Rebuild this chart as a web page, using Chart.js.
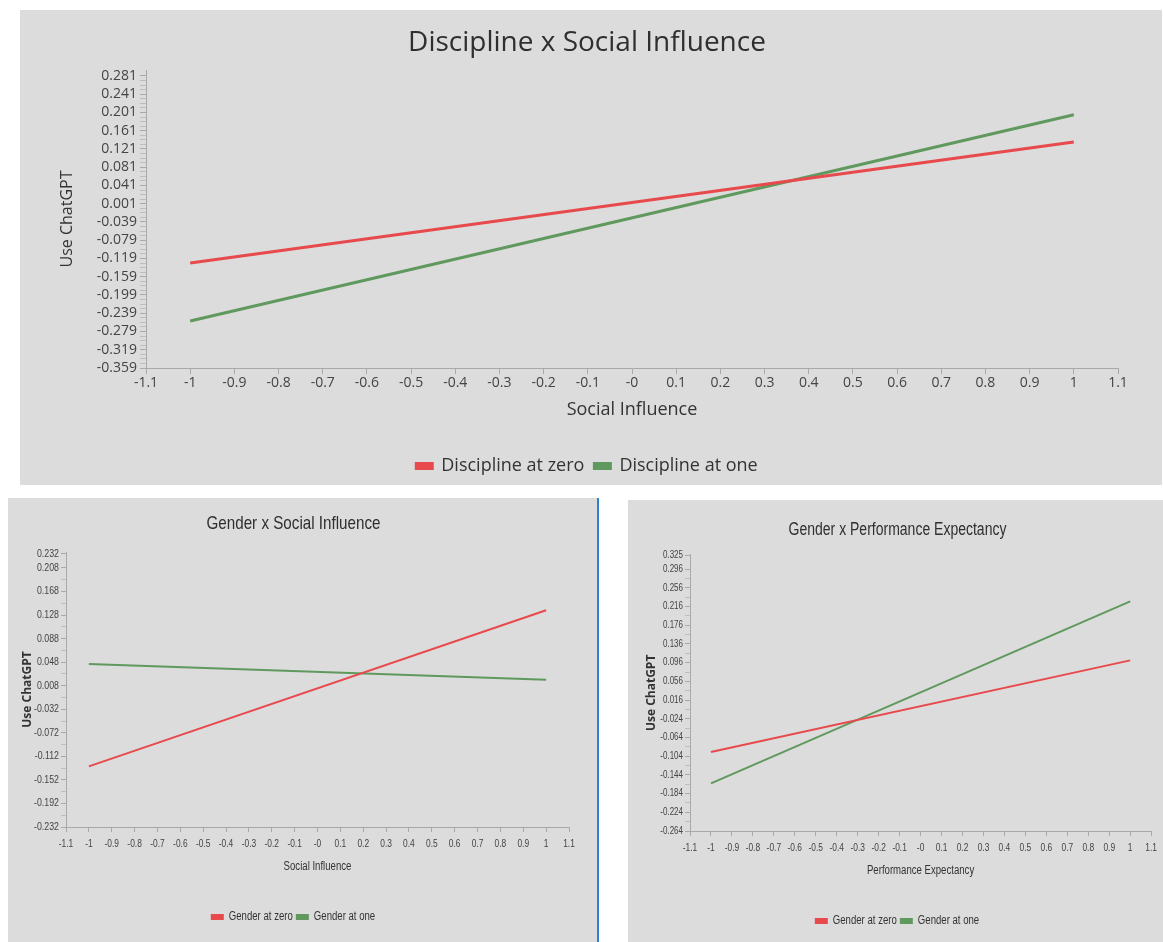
<!DOCTYPE html>
<html>
<head>
<meta charset="utf-8">
<title>Moderation plots</title>
<script src="https://cdn.jsdelivr.net/npm/chart.js"></script>
<style>
  body { margin: 0; background: #fff; width: 1163px; height: 942px; position: relative; overflow: hidden; }
  .panel { position: absolute; background: #dcdcdc; }
  #p1 { left: 20px; top: 10px; width: 1142px; height: 475px; }
  #p2 { left: 8px; top: 498px; width: 589px; height: 444px; border-right: 2px solid #2d7fd8; }
  #p3 { left: 628px; top: 500px; width: 535px; height: 442px; }
  canvas { display: block; }
</style>
</head>
<body>
<div class="panel" id="p1"><canvas id="c1" width="1142" height="475"></canvas></div>
<div class="panel" id="p2"><canvas id="c2" width="589" height="444"></canvas></div>
<div class="panel" id="p3"><canvas id="c3" width="535" height="442"></canvas></div>

<script>
// valores de x (moderador de -1 a 1)
var xPoints = [-1, 1];

// Discipline x Social Influence
var discZero = [-0.129, 0.136];
var discOne = [-0.256, 0.196];

// Gender x Social Influence
var genSiZero = [-0.129, 0.136];
var genSiOne = [0.045, 0.018];

// Gender x Performance Expectancy
var genPeZero = [-0.095, 0.101];
var genPeOne = [-0.162, 0.227];

// etiquetas de los ejes
var xTickLabels = ['-1.1', '-1', '-0.9', '-0.8', '-0.7', '-0.6', '-0.5', '-0.4', '-0.3', '-0.2', '-0.1', '-0',
                   '0.1', '0.2', '0.3', '0.4', '0.5', '0.6', '0.7', '0.8', '0.9', '1', '1.1'];
var topYTickLabels = ['-0.359', '-0.319', '-0.279', '-0.239', '-0.199', '-0.159', '-0.119', '-0.079', '-0.039',
                      '0.001', '0.041', '0.081', '0.121', '0.161', '0.201', '0.241', '0.281'];
var leftYTickLabels = ['-0.232', '-0.192', '-0.152', '-0.112', '-0.072', '-0.032', '0.008', '0.048', '0.088',
                       '0.128', '0.168', '0.208', '0.232'];
var rightYTickLabels = ['-0.264', '-0.224', '-0.184', '-0.144', '-0.104', '-0.064', '-0.024', '0.016', '0.056',
                        '0.096', '0.136', '0.176', '0.216', '0.256', '0.296', '0.325'];

var RED = '#e8494c';
var GREEN = '#5f995d';
var AXIS = '#a9a9a9';

function toPoints(ys) {
    return xPoints.map(function (x, i) { return { x: x, y: ys[i] }; });
}

// construye los ticks del eje y, con ticks menores sin etiqueta
function buildYTicks(labels, minorPerGap) {
    var ticks = [];
    for (var i = 0; i < labels.length; i++) {
        var v = parseFloat(labels[i]);
        ticks.push({ value: v, label: labels[i] });
        if (i < labels.length - 1) {
            var next = parseFloat(labels[i + 1]);
            if (next - v > 0.039) {
                for (var k = 1; k <= minorPerGap; k++) {
                    ticks.push({ value: v + (next - v) * k / (minorPerGap + 1), label: '', minor: true });
                }
            }
        }
    }
    return ticks;
}

// texto estrecho (no hay fuente "narrow" instalada): se comprime en horizontal, salvo lo que va en negrita
var condensePlugin = {
    id: 'condense',
    beforeInit: function (chart, args, opts) {
        var ctx = chart.ctx;
        var k = opts.factor || 1;
        if (k === 1) return;
        var fill = ctx.fillText.bind(ctx);
        var measure = ctx.measureText.bind(ctx);
        ctx.fillText = function (text, x, y, maxWidth) {
            if (/bold/.test(ctx.font)) {
                return maxWidth === undefined ? fill(text, x, y) : fill(text, x, y, maxWidth);
            }
            ctx.save();
            ctx.translate(x, y);
            ctx.scale(k, 1);
            fill(text, 0, 0);
            ctx.restore();
        };
        ctx.measureText = function (text) {
            var m = measure(text);
            if (/bold/.test(ctx.font)) return m;
            return {
                width: m.width * k,
                actualBoundingBoxAscent: m.actualBoundingBoxAscent,
                actualBoundingBoxDescent: m.actualBoundingBoxDescent,
                actualBoundingBoxLeft: m.actualBoundingBoxLeft * k,
                actualBoundingBoxRight: m.actualBoundingBoxRight * k
            };
        };
    }
};

function makeChart(id, o) {
    var yTicks = buildYTicks(o.yLabels, o.minorPerGap);
    var xTicks = xTickLabels.map(function (t) { return { value: parseFloat(t), label: t }; });
    var f = o.fonts;

    return new Chart(document.getElementById(id).getContext('2d'), {
        type: 'line',
        data: {
            datasets: [{
                label: o.names[0],
                data: toPoints(o.zero),
                borderColor: RED,
                backgroundColor: RED,
                borderWidth: o.lineWidth,
                pointRadius: 0,
                fill: false
            }, {
                label: o.names[1],
                data: toPoints(o.one),
                borderColor: GREEN,
                backgroundColor: GREEN,
                borderWidth: o.lineWidth,
                pointRadius: 0,
                fill: false
            }]
        },
        plugins: [condensePlugin],
        options: {
            responsive: false,
            animation: false,
            events: [],
            layout: { padding: o.padding },
            plugins: {
                condense: { factor: o.condense },
                title: {
                    display: true,
                    text: o.title,
                    color: '#2f2f2f',
                    font: { family: f.title, size: o.titleSize, weight: 'normal' },
                    padding: o.titlePad
                },
                legend: {
                    position: 'bottom',
                    labels: {
                        color: '#333',
                        font: { family: f.tick, size: o.legendSize },
                        boxWidth: o.legendBox[0],
                        boxHeight: o.legendBox[1],
                        padding: o.legendPad
                    }
                },
                tooltip: { enabled: false }
            },
            scales: {
                x: {
                    type: 'linear',
                    min: -1.1,
                    max: 1.1,
                    afterBuildTicks: function (s) { s.ticks = xTicks.map(function (t) { return { value: t.value }; }); },
                    afterFit: function (s) { s.height = o.xHeight; },
                    ticks: {
                        autoSkip: false,
                        maxRotation: 0,
                        color: '#444',
                        font: { family: f.tick, size: o.xTickSize },
                        padding: o.xTickPad,
                        callback: function (v, i) { return xTicks[i] ? xTicks[i].label : ''; }
                    },
                    grid: { drawOnChartArea: false, tickLength: o.tickLen, color: AXIS },
                    border: { color: AXIS },
                    title: {
                        display: true,
                        text: o.xTitle,
                        color: '#333',
                        font: { family: f.axis, size: o.axisSize },
                        padding: { top: 0, bottom: o.xTitlePadBottom }
                    }
                },
                y: {
                    type: 'linear',
                    min: o.yMin,
                    max: o.yMax,
                    afterBuildTicks: function (s) { s.ticks = yTicks.map(function (t) { return { value: t.value }; }); },
                    afterFit: function (s) { s.width = o.yWidth; },
                    ticks: {
                        autoSkip: false,
                        color: '#444',
                        font: { family: f.tick, size: o.tickSize },
                        padding: o.yTickPad,
                        callback: function (v, i) { return yTicks[i] ? yTicks[i].label : ''; }
                    },
                    grid: {
                        drawOnChartArea: false,
                        tickLength: o.tickLen,
                        color: function (c) { return (c.index !== undefined && yTicks[c.index] && yTicks[c.index].minor) ? '#bdbdbd' : AXIS; }
                    },
                    border: { color: AXIS },
                    title: {
                        display: true,
                        text: 'Use ChatGPT',
                        color: '#333',
                        font: { family: f.yTitle, size: o.yTitleSize, weight: o.yTitleWeight },
                        padding: { top: o.yTitlePadTop, bottom: 0 }
                    }
                }
            }
        }
    });
}

var wideFonts = { title: "'Open Sans', 'Noto Sans', sans-serif", tick: "'Open Sans', 'Noto Sans', sans-serif",
                  axis: "'Open Sans', 'Noto Sans', sans-serif", yTitle: "'Open Sans', 'Noto Sans', sans-serif" };
var narrowFonts = { title: "'Liberation Sans', Arial, sans-serif",
                    tick: "'Liberation Sans', Arial, sans-serif",
                    axis: "'Liberation Sans', Arial, sans-serif",
                    yTitle: "'Open Sans', 'Noto Sans', sans-serif" };

makeChart('c1', {
    title: 'Discipline x Social Influence', xTitle: 'Social Influence',
    names: ['Discipline at zero', 'Discipline at one'], zero: discZero, one: discOne,
    yLabels: topYTickLabels, minorPerGap: 3, yMin: -0.359, yMax: 0.294,
    fonts: wideFonts, condense: 1, titleSize: 28, tickSize: 14, xTickSize: 14, axisSize: 18, legendSize: 18,
    legendBox: [16, 5], legendPad: 10,
    yTitleSize: 16, yTitleWeight: 'normal', yTitlePadTop: 2,
    lineWidth: 3, tickLen: 6, xTickPad: 1, yTickPad: 3,
    padding: { left: 36, right: 44, top: 0, bottom: 0 },
    titlePad: { top: 16.2, bottom: 10.2 },
    yWidth: 90, xHeight: 79, xTitlePadBottom: 26.2
});

makeChart('c2', {
    title: 'Gender x Social Influence', xTitle: 'Social Influence',
    names: ['Gender at zero', 'Gender at one'], zero: genSiZero, one: genSiOne,
    yLabels: leftYTickLabels, minorPerGap: 1, yMin: -0.232, yMax: 0.235,
    fonts: narrowFonts, condense: 0.8, titleSize: 19, tickSize: 11, xTickSize: 10.5, axisSize: 12, legendSize: 12,
    legendBox: [11, 4], legendPad: 4,
    yTitleSize: 12, yTitleWeight: 'bold', yTitlePadTop: 2.8,
    lineWidth: 2, tickLen: 5, xTickPad: 6, yTickPad: 2,
    padding: { left: 10, right: 28, top: 0, bottom: 9 },
    titlePad: { top: 14.6, bottom: 16.6 },
    yWidth: 48, xHeight: 80, xTitlePadBottom: 32.8
});

makeChart('c3', {
    title: 'Gender x Performance Expectancy', xTitle: 'Performance Expectancy',
    names: ['Gender at zero', 'Gender at one'], zero: genPeZero, one: genPeOne,
    yLabels: rightYTickLabels, minorPerGap: 1, yMin: -0.264, yMax: 0.327,
    fonts: narrowFonts, condense: 0.8, titleSize: 17.5, tickSize: 10, xTickSize: 10.5, axisSize: 12, legendSize: 12,
    legendBox: [11, 4], legendPad: 4,
    yTitleSize: 12, yTitleWeight: 'bold', yTitlePadTop: 2.8,
    lineWidth: 2, tickLen: 5, xTickPad: 6, yTickPad: 2,
    padding: { left: 14, right: 10, top: 0, bottom: 5 },
    titlePad: { top: 19.5, bottom: 14.2 },
    yWidth: 48, xHeight: 80, xTitlePadBottom: 32.8
});
</script>
</body>
</html>
